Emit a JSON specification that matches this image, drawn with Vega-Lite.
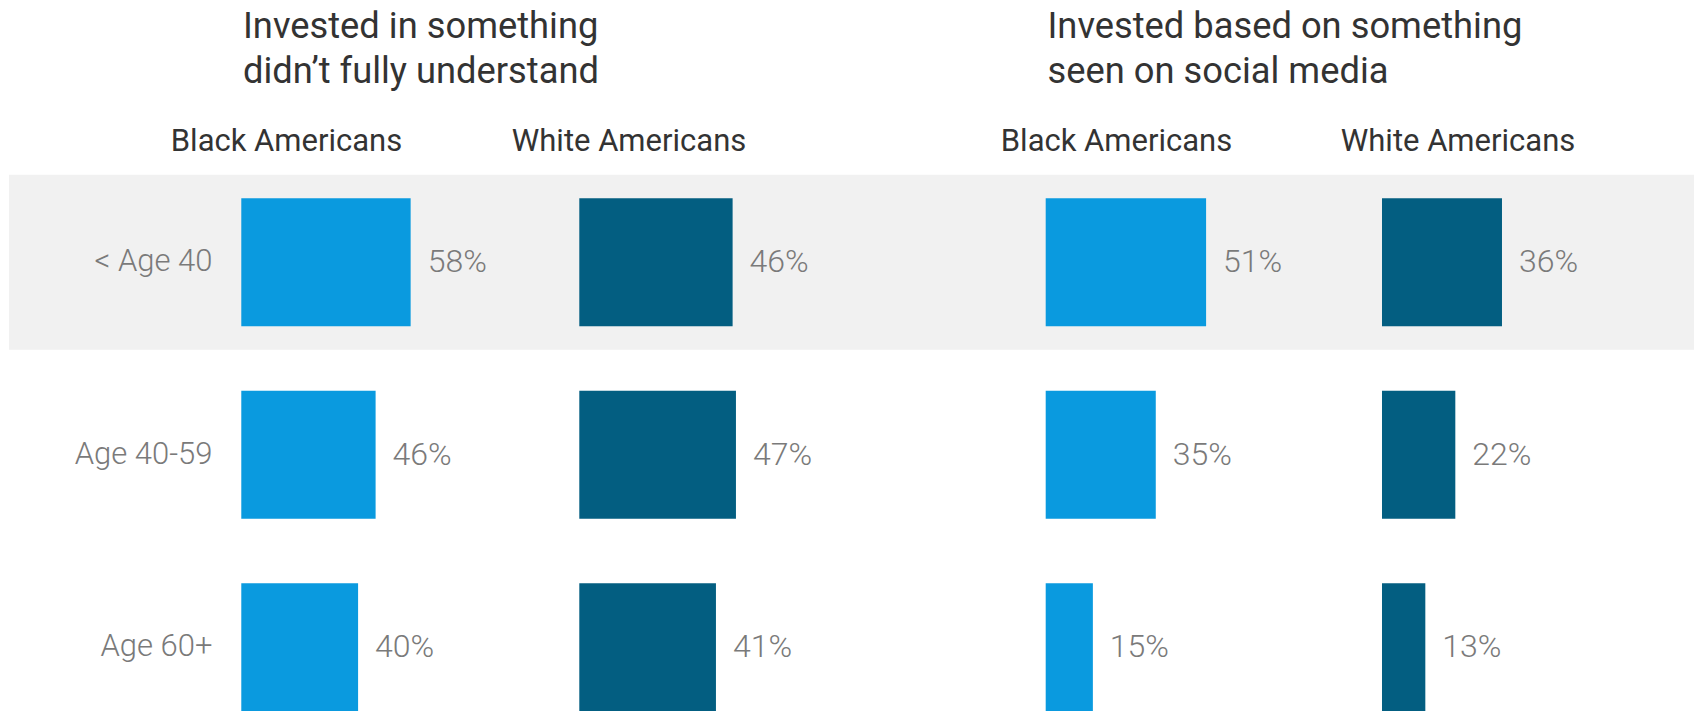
{
  "$schema": "https://vega.github.io/schema/vega-lite/v6.json",
  "padding": {"left": 9, "top": 8, "right": 0, "bottom": 0},
  "background": "#ffffff",
  "data": {"values": [
    {"group": "understand", "race": "Black", "age": "< Age 40", "value": 0.58},
    {"group": "understand", "race": "Black", "age": "Age 40-59", "value": 0.46},
    {"group": "understand", "race": "Black", "age": "Age 60+", "value": 0.40},
    {"group": "understand", "race": "White", "age": "< Age 40", "value": 0.46},
    {"group": "understand", "race": "White", "age": "Age 40-59", "value": 0.47},
    {"group": "understand", "race": "White", "age": "Age 60+", "value": 0.41},
    {"group": "social", "race": "Black", "age": "< Age 40", "value": 0.51},
    {"group": "social", "race": "Black", "age": "Age 40-59", "value": 0.35},
    {"group": "social", "race": "Black", "age": "Age 60+", "value": 0.15},
    {"group": "social", "race": "White", "age": "< Age 40", "value": 0.36},
    {"group": "social", "race": "White", "age": "Age 40-59", "value": 0.22},
    {"group": "social", "race": "White", "age": "Age 60+", "value": 0.13}
  ]},
  "spacing": 0,
  "hconcat": [
    {
      "title": {"text": ["Invested in something", "didn’t fully understand"], "anchor": "start", "dx": 234, "fontSize": 36.3, "lineHeight": 45, "font": "Roboto", "fontWeight": 400, "color": "#333333", "offset": 35.8},
      "spacing": 0,
      "hconcat": [
        {
          "width": 491, "height": 577.5,
          "title": {"text": "Black Americans", "anchor": "middle", "frame": "group", "dx": 32, "fontSize": 31, "font": "Roboto", "fontWeight": 400, "color": "#333333", "baseline": "alphabetic", "offset": -15.9},
          "transform": [{"filter": "datum.group == 'understand' && datum.race == 'Black'"}],
          "encoding": {"y": {"field": "age", "type": "nominal", "sort": ["< Age 40", "Age 40-59", "Age 60+"], "scale": {"paddingInner": 0.0909, "paddingOuter": 0.04545},
            "axis": {"title": null, "domain": false, "ticks": false, "labelPadding": 0, "offset": -203, "zindex": 1, "labelFontSize": 31, "labelFont": "Roboto", "labelFontWeight": 300, "labelColor": "#7a7a7a", "labelAlign": "right", "labelBaseline": "middle", "labelLimit": 300}}},
          "layer": [
            {"transform": [{"filter": "datum.age == '< Age 40'"}], "mark": {"type": "bar", "color": "#f1f1f1"}},
            {"mark": {"type": "bar", "color": "#0A9ADF", "height": {"band": 0.73}},
             "encoding": {"x": {"field": "value", "type": "quantitative", "scale": {"domain": [-0.7955, 0.886], "nice": false}, "axis": null}}},
            {"mark": {"type": "text", "align": "left", "baseline": "middle", "dx": 17, "fontSize": 32, "font": "Roboto", "fontWeight": 300, "color": "#7a7a7a"},
             "encoding": {"x": {"field": "value", "type": "quantitative", "scale": {"domain": [-0.7955, 0.886], "nice": false}, "axis": null}, "text": {"field": "value", "type": "quantitative", "format": ".0%"}}}
          ]
        },
        {
          "width": 460, "height": 577.5,
          "title": {"text": "White Americans", "anchor": "middle", "frame": "group", "dx": -101, "fontSize": 31, "font": "Roboto", "fontWeight": 400, "color": "#333333", "baseline": "alphabetic", "offset": -15.9},
          "transform": [{"filter": "datum.group == 'understand' && datum.race == 'White'"}],
          "encoding": {"y": {"field": "age", "type": "nominal", "sort": ["< Age 40", "Age 40-59", "Age 60+"], "scale": {"paddingInner": 0.0909, "paddingOuter": 0.04545}, "axis": null}},
          "layer": [
            {"transform": [{"filter": "datum.age == '< Age 40'"}], "mark": {"type": "bar", "color": "#f1f1f1"}},
            {"mark": {"type": "bar", "color": "#035E81", "height": {"band": 0.73}},
             "encoding": {"x": {"field": "value", "type": "quantitative", "scale": {"domain": [-0.2379, 1.1422], "nice": false}, "axis": null}}},
            {"mark": {"type": "text", "align": "left", "baseline": "middle", "dx": 17, "fontSize": 32, "font": "Roboto", "fontWeight": 300, "color": "#7a7a7a"},
             "encoding": {"x": {"field": "value", "type": "quantitative", "scale": {"domain": [-0.2379, 1.1422], "nice": false}, "axis": null}, "text": {"field": "value", "type": "quantitative", "format": ".0%"}}}
          ]
        }
      ]
    },
    {
      "title": {"text": ["Invested based on something", "seen on social media"], "anchor": "start", "dx": 87.5, "fontSize": 36.3, "lineHeight": 45, "font": "Roboto", "fontWeight": 400, "color": "#333333", "offset": 35.8},
      "spacing": 0,
      "hconcat": [
        {
          "width": 340, "height": 577.5,
          "title": {"text": "Black Americans", "anchor": "middle", "frame": "group", "dx": -13.5, "fontSize": 31, "font": "Roboto", "fontWeight": 400, "color": "#333333", "baseline": "alphabetic", "offset": -15.9},
          "transform": [{"filter": "datum.group == 'social' && datum.race == 'Black'"}],
          "encoding": {"y": {"field": "age", "type": "nominal", "sort": ["< Age 40", "Age 40-59", "Age 60+"], "scale": {"paddingInner": 0.0909, "paddingOuter": 0.04545}, "axis": null}},
          "layer": [
            {"transform": [{"filter": "datum.age == '< Age 40'"}], "mark": {"type": "bar", "color": "#f1f1f1"}},
            {"mark": {"type": "bar", "color": "#0A9ADF", "height": {"band": 0.73}},
             "encoding": {"x": {"field": "value", "type": "quantitative", "scale": {"domain": [-0.2725, 0.8086], "nice": false}, "axis": null}}},
            {"mark": {"type": "text", "align": "left", "baseline": "middle", "dx": 17, "fontSize": 32, "font": "Roboto", "fontWeight": 300, "color": "#7a7a7a"},
             "encoding": {"x": {"field": "value", "type": "quantitative", "scale": {"domain": [-0.2725, 0.8086], "nice": false}, "axis": null}, "text": {"field": "value", "type": "quantitative", "format": ".0%"}}}
          ]
        },
        {
          "width": 394, "height": 577.5,
          "title": {"text": "White Americans", "anchor": "middle", "frame": "group", "dx": -39, "fontSize": 31, "font": "Roboto", "fontWeight": 400, "color": "#333333", "baseline": "alphabetic", "offset": -15.9},
          "transform": [{"filter": "datum.group == 'social' && datum.race == 'White'"}],
          "encoding": {"y": {"field": "age", "type": "nominal", "sort": ["< Age 40", "Age 40-59", "Age 60+"], "scale": {"paddingInner": 0.0909, "paddingOuter": 0.04545}, "axis": null}},
          "layer": [
            {"transform": [{"filter": "datum.age == '< Age 40'"}], "mark": {"type": "bar", "color": "#f1f1f1"}},
            {"mark": {"type": "bar", "color": "#035E81", "height": {"band": 0.73}},
             "encoding": {"x": {"field": "value", "type": "quantitative", "scale": {"domain": [-0.246, 0.9361], "nice": false}, "axis": null}}},
            {"mark": {"type": "text", "align": "left", "baseline": "middle", "dx": 17, "fontSize": 32, "font": "Roboto", "fontWeight": 300, "color": "#7a7a7a"},
             "encoding": {"x": {"field": "value", "type": "quantitative", "scale": {"domain": [-0.246, 0.9361], "nice": false}, "axis": null}, "text": {"field": "value", "type": "quantitative", "format": ".0%"}}}
          ]
        }
      ]
    }
  ],
  "config": {"view": {"stroke": null}, "font": "Roboto"}
}
